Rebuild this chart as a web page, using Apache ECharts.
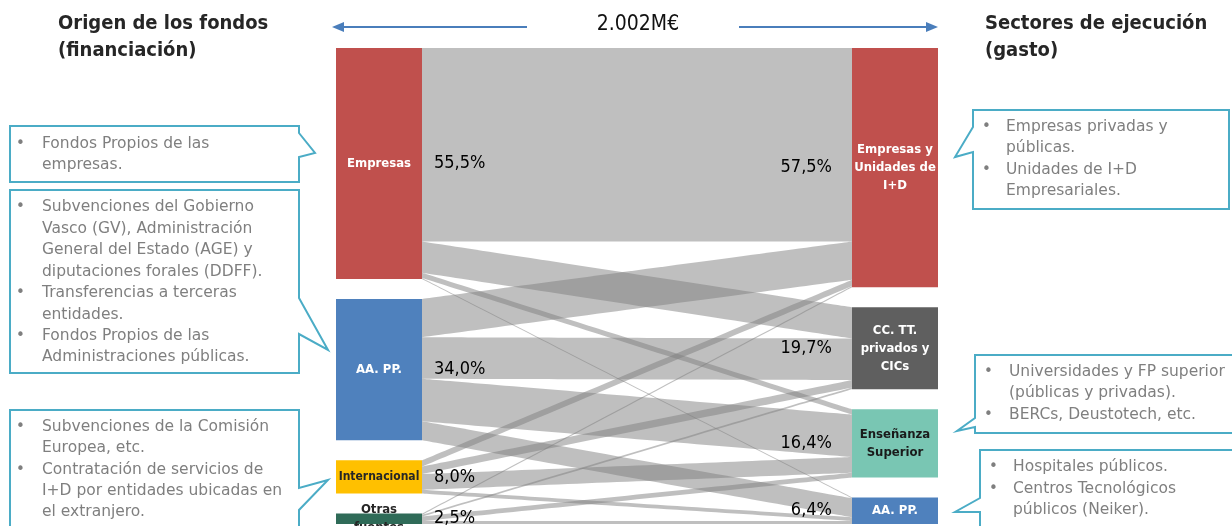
<!DOCTYPE html>
<html>
<head>
<meta charset="utf-8">
<script src="https://cdn.jsdelivr.net/npm/echarts@6/dist/echarts.min.js"></script>
<style>
  html, body { margin: 0; padding: 0; background: #fff; }
  #chart { width: 1232px; height: 526px; }
</style>
</head>
<body>
<div id="chart"></div>
<script>
// origen de los fondos (izquierda) y sectores de ejecucion (derecha)
const sources = ['Empresas', 'AA. PP.', 'Internacional', 'Otras\nfuentes'];
const targets = ['Empresas y\nUnidades de\nI+D', 'CC. TT.\nprivados y\nCICs', 'Enseñanza\nSuperior', 'AA. PP.'];
const sourceShare = [55.5, 34.0, 8.0, 2.5];
const targetShare = [57.5, 19.7, 16.4, 6.4];
// % del gasto total: filas = origen, columnas = sector de ejecucion
const flows = [
  [46.5, 7.5, 1.3, 0.2],
  [9.2, 10.0, 10.2, 4.6],
  [1.5, 1.8, 3.8, 0.9],
  [0.3, 0.4, 1.1, 0.7]
];
const sourceColors = ['#C0504D', '#4F81BD', '#FFC000', '#2F6B58'];
const targetColors = ['#C0504D', '#5F5F5F', '#79C6B3', '#4F81BD'];
const sourceTextColors = ['#fff', '#fff', '#262626', '#262626'];
const targetTextColors = ['#fff', '#fff', '#1a1a1a', '#fff'];
const total = '2.002M€';

const FONT = "'DejaVu Sans Condensed', 'DejaVu Sans', sans-serif";
const FONT_WIDE = "'DejaVu Sans', sans-serif";

function pct(v) {
  return v.toFixed(1).replace('.', ',') + '%';
}

// nodos y enlaces
function buildNodes(withPct) {
  const nodes = [];
  sources.forEach(function (s, i) {
    nodes.push({
      name: 'o' + i,
      itemStyle: { color: withPct ? 'rgba(0,0,0,0)' : sourceColors[i] },
      label: withPct
        ? { position: 'right', distance: 12, formatter: pct(sourceShare[i]) }
        : { color: sourceTextColors[i], formatter: s, fontSize: i === 2 ? 12 : 13 }
    });
  });
  targets.forEach(function (t, i) {
    nodes.push({
      name: 't' + i,
      itemStyle: { color: withPct ? 'rgba(0,0,0,0)' : targetColors[i] },
      label: withPct
        ? { position: 'left', distance: 20, formatter: pct(targetShare[i]) }
        : { color: targetTextColors[i], formatter: t }
    });
  });
  return nodes;
}
const links = [];
flows.forEach(function (row, i) {
  row.forEach(function (v, j) {
    links.push({ source: 'o' + i, target: 't' + j, value: v });
  });
});

// cajas de texto (bocadillos)
const boxStroke = '#4BACC6';
const boxText = '#7F7F7F';
function callout(points, bulletX, textX, lines) {
  const els = [{
    type: 'polygon',
    shape: { points: points },
    style: { fill: '#fff', stroke: boxStroke, lineWidth: 2 },
    z: 1
  }];
  lines.forEach(function (l) {
    if (l[2]) {
      els.push({ type: 'text', z: 2, style: { text: '•', x: bulletX, y: l[0], font: '15px ' + FONT_WIDE, fill: boxText, textVerticalAlign: 'middle' } });
    }
    els.push({ type: 'text', z: 2, style: { text: l[1], x: textX, y: l[0], font: '15.5px ' + FONT_WIDE, fill: boxText, textVerticalAlign: 'middle' } });
  });
  return els;
}

let graphics = [];
graphics = graphics.concat(callout(
  [[10, 126], [299, 126], [299, 133], [315, 153], [299, 157], [299, 182], [10, 182]], 16, 42,
  [[144, 'Fondos Propios de las', true], [165, 'empresas.']]
));
graphics = graphics.concat(callout(
  [[10, 190], [299, 190], [299, 298], [328, 350], [299, 334], [299, 373], [10, 373]], 16, 42,
  [[207, 'Subvenciones del Gobierno', true], [229, 'Vasco (GV), Administración'], [250, 'General del Estado (AGE) y'],
   [272, 'diputaciones forales (DDFF).'], [293, 'Transferencias a terceras', true], [315, 'entidades.'],
   [336, 'Fondos Propios de las', true], [357, 'Administraciones públicas.']]
));
graphics = graphics.concat(callout(
  [[10, 410], [299, 410], [299, 488], [328, 480], [299, 510], [299, 545], [10, 545]], 16, 42,
  [[427, 'Subvenciones de la Comisión', true], [448, 'Europea, etc.'], [470, 'Contratación de servicios de', true],
   [491, 'I+D por entidades ubicadas en'], [512, 'el extranjero.']]
));
graphics = graphics.concat(callout(
  [[973, 110], [1229, 110], [1229, 209], [973, 209], [973, 152], [955, 157], [973, 127]], 982, 1006,
  [[127, 'Empresas privadas y', true], [148, 'públicas.'], [170, 'Unidades de I+D', true], [191, 'Empresariales.']]
));
graphics = graphics.concat(callout(
  [[975, 355], [1245, 355], [1245, 433], [975, 433], [975, 427], [957, 431], [975, 418]], 984, 1009,
  [[372, 'Universidades y FP superior', true], [393, '(públicas y privadas).'], [415, 'BERCs, Deustotech, etc.', true]]
));
graphics = graphics.concat(callout(
  [[980, 450], [1245, 450], [1245, 545], [980, 545], [980, 512], [955, 512], [980, 498]], 989, 1013,
  [[467, 'Hospitales públicos.', true], [489, 'Centros Tecnológicos', true], [510, 'públicos (Neiker).']]
));

// titulos y flechas
graphics.push(
  { type: 'text', style: { text: 'Origen de los fondos\n(financiación)', x: 58, y: 10, font: 'bold 20px ' + FONT, fill: '#262626', lineHeight: 27 } },
  { type: 'text', style: { text: 'Sectores de ejecución\n(gasto)', x: 985, y: 10, font: 'bold 20px ' + FONT, fill: '#262626', lineHeight: 27 } },
  { type: 'text', style: { text: total, x: 638, y: 25, font: '21px ' + FONT, fill: '#111', textAlign: 'center', textVerticalAlign: 'middle' } },
  { type: 'line', shape: { x1: 342, y1: 27, x2: 527, y2: 27 }, style: { stroke: '#4A7EBB', lineWidth: 2 } },
  { type: 'polygon', shape: { points: [[332, 27], [344, 22], [344, 32]] }, style: { fill: '#4A7EBB' } },
  { type: 'line', shape: { x1: 739, y1: 27, x2: 928, y2: 27 }, style: { stroke: '#4A7EBB', lineWidth: 2 } },
  { type: 'polygon', shape: { points: [[938, 27], [926, 22], [926, 32]] }, style: { fill: '#4A7EBB' } }
);

const layout = {
  type: 'sankey',
  left: 336, top: 48, right: 294, bottom: 2,
  nodeWidth: 86, nodeGap: 20,
  layoutIterations: 0,
  draggable: false,
  silent: true,
  emphasis: { disabled: true }
};

const myChart = echarts.init(document.getElementById('chart'));
myChart.setOption({
  animation: false,
  graphic: graphics,
  series: [
    Object.assign({}, layout, {
      data: buildNodes(false),
      links: links,
      lineStyle: { color: '#808080', opacity: 0.5, curveness: 0 },
      label: { show: true, position: 'inside', fontFamily: FONT, fontWeight: 'bold', fontSize: 13, lineHeight: 18 }
    }),
    Object.assign({}, layout, {
      data: buildNodes(true),
      links: links,
      lineStyle: { opacity: 0, curveness: 0 },
      label: { show: true, fontFamily: FONT, fontSize: 18, color: '#000' }
    })
  ]
});
</script>
</body>
</html>
